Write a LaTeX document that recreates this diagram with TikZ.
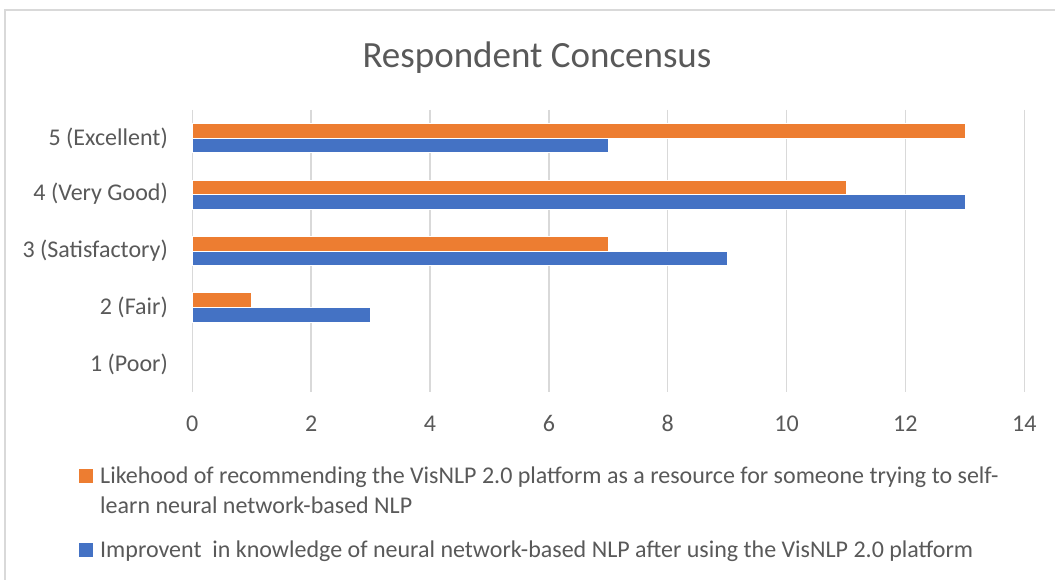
\documentclass[tikz,border=0pt]{standalone}
\usepackage{fontspec}
\setmainfont{Carlito}
\usetikzlibrary{positioning}
\definecolor{barorange}{HTML}{ED7D31}
\definecolor{barblue}{HTML}{4472C4}
\definecolor{gridgray}{HTML}{D9D9D9}
\definecolor{textgray}{HTML}{595959}
\newcommand{\labelfont}{\fontsize{24}{29}\selectfont}

\tikzset{
 orangebar/.style={fill=barorange, draw=white, line width=0.5pt},
 bluebar/.style={fill=barblue, draw=white, line width=0.5pt},
 gridline/.style={draw=gridgray, line width=1.5pt},
 catlabel/.style={anchor=east, text=textgray, font=\labelfont, inner sep=0pt},
 ticklabel/.style={text=textgray, font=\labelfont, inner sep=0pt},
 keytext/.style={anchor=base west, text=textgray, font=\labelfont, inner sep=0pt},
 keybox/.style={rectangle, minimum size=14pt, inner sep=0pt}
}

\begin{document}
\begin{tikzpicture}[x=1pt, y=-1pt]
 \useasboundingbox (0,0) rectangle (1055,580);
 \fill[white] (0,0) rectangle (1055,580);
 \draw[gridgray, line width=1.5pt] (5,10) rectangle (1062,590);

 % title
 \node [anchor=base, text=textgray, font=\fontsize{37}{44}\selectfont, inner sep=0pt] (title) at (537,68) {Respondent Concensus};

 % vertical gridlines
 \draw [gridline] (192.3,110) -- (192.3,392);
 \draw [gridline] (311.1,110) -- (311.1,392);
 \draw [gridline] (430,110) -- (430,392);
 \draw [gridline] (548.9,110) -- (548.9,392);
 \draw [gridline] (667.7,110) -- (667.7,392);
 \draw [gridline] (786.6,110) -- (786.6,392);
 \draw [gridline] (905.4,110) -- (905.4,392);
 \draw [gridline] (1024.3,110) -- (1024.3,392);

 % tick labels
 \node [ticklabel] (t0) at (192.3,423.5) {0};
 \node [ticklabel] (t2) at (311.1,423.5) {2};
 \node [ticklabel] (t4) at (430,423.5) {4};
 \node [ticklabel] (t6) at (548.9,423.5) {6};
 \node [ticklabel] (t8) at (667.7,423.5) {8};
 \node [ticklabel] (t10) at (786.6,423.5) {10};
 \node [ticklabel] (t12) at (905.4,423.5) {12};
 \node [ticklabel] (t14) at (1024.3,423.5) {14};

 % category labels
 \node [catlabel] (excellent) at (168,138) {5 (Excellent)};
 \node [catlabel] (verygood) at (168,194) {4 (Very Good)};
 \node [catlabel] (satisfactory) at (168,250.5) {3 (Satisfactory)};
 \node [catlabel] (fair) at (168,307) {2 (Fair)};
 \node [catlabel] (poor) at (168,364) {1 (Poor)};

 % bars (orange = recommending, blue = improvement)
 \draw [orangebar] (192.3,123.3) rectangle (964.9,138);
 \draw [bluebar] (192.3,138) rectangle (608.3,152.6);
 \draw [orangebar] (192.3,179.8) rectangle (846,194.5);
 \draw [bluebar] (192.3,194.5) rectangle (964.9,209.1);
 \draw [orangebar] (192.3,236.1) rectangle (608.3,250.8);
 \draw [bluebar] (192.3,250.8) rectangle (727.2,265.4);
 \draw [orangebar] (192.3,292.5) rectangle (251.7,307.2);
 \draw [bluebar] (192.3,307.2) rectangle (370.6,321.8);

 % legend
 \node [keybox, fill=barorange] (keyorange) at (86,476) {};
 \node [keytext] (recommend) at (100,483) {Likehood of recommending the VisNLP 2.0 platform as a resource for someone trying to self-};
 \node [keytext] (recommendb) at (100,513) {learn neural network-based NLP};
 \node [keybox, fill=barblue] (keyblue) at (86,550) {};
 \node [keytext] (improve) at (100,557) {Improvent\ \ in knowledge of neural network-based NLP after using the VisNLP 2.0 platform};
\end{tikzpicture}
\end{document}
